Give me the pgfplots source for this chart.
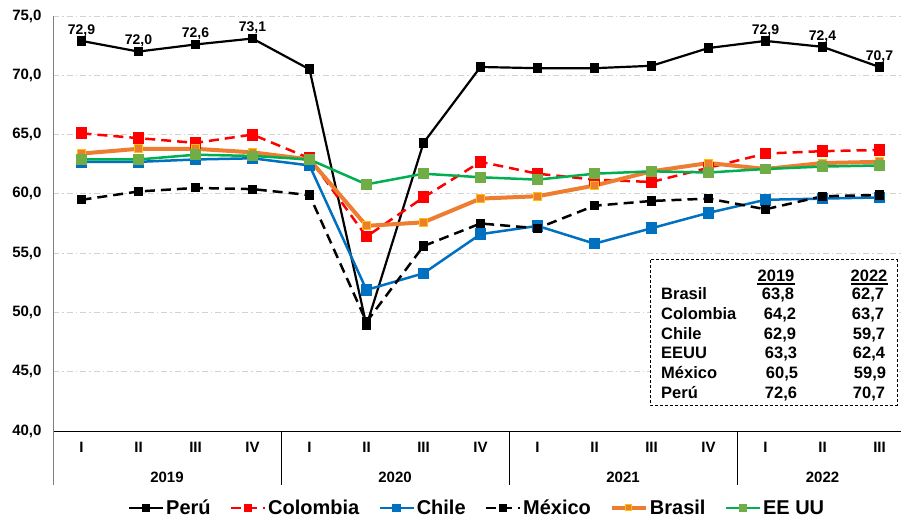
\documentclass[border=0pt]{standalone}
\usepackage{fontspec}
\setmainfont{Liberation Sans}
\usepackage{pgfplots}
\pgfplotsset{compat=1.18}

\definecolor{chile}{RGB}{0,112,192}
\definecolor{brasil}{RGB}{237,125,49}
\definecolor{brasilm}{RGB}{255,192,0}
\definecolor{eeuu}{RGB}{0,176,80}
\definecolor{eeuum}{RGB}{112,173,71}
\definecolor{gridc}{RGB}{210,210,210}

\pgfplotsset{
  legend image code/.code={\draw[mark repeat=2,mark phase=2,#1,mark size=3pt] plot coordinates {(0pt,0pt) (17pt,0pt) (34pt,0pt)};}
}

\begin{document}
\begin{tikzpicture}
\useasboundingbox (0,0) rectangle (901pt,517pt);
\begin{axis}[
    at={(53pt,86pt)}, anchor=south west,
    scale only axis,
    width=855pt, height=415pt,
    xmin=-0.5, xmax=14.5,
    ymin=40, ymax=75,
    ytick={40,45,...,75},
    xtick={0,...,14},
    xticklabels={I,II,III,IV,I,II,III,IV,I,II,III,IV,I,II,III},
    axis lines*=left,
    x axis line style={black, line width=1pt},
    y axis line style={gray, line width=1pt},
    major tick length=0pt,
    ymajorgrids,
    grid style={gridc, line width=0.8pt, dash pattern=on 6pt off 3pt on 1.5pt off 3pt},
    /pgf/number format/use comma,
    /pgf/number format/fixed,
    /pgf/number format/fixed zerofill,
    /pgf/number format/precision=1,
    /pgf/number format/assume math mode=true,
    ticklabel style={font=\bfseries\fontsize{15}{18}\selectfont},
    yticklabel style={xshift=-8pt},
    xticklabel style={yshift=-8pt},
    clip=false,
    legend columns=-1,
    legend style={at={(0.496,-0.1855)}, anchor=center, draw=none, fill=none,
      font=\bfseries\fontsize{20}{22}\selectfont,
      /tikz/every even column/.append style={column sep=17pt},
      /tikz/every odd column/.append style={column sep=0pt},
      inner sep=0pt},
    legend cell align=left,
]
% Peru
\addplot[black, line width=2.2pt, mark=square*, mark size=3.8pt, mark options={solid}] coordinates {
  (0,72.9) (1,72.0) (2,72.6) (3,73.1) (4,70.5) (5,48.9) (6,64.3) (7,70.7)
  (8,70.6) (9,70.6) (10,70.8) (11,72.3) (12,72.9) (13,72.4) (14,70.7)};
\addlegendentry{Perú}
% Colombia
\addplot[red, line width=2.5pt, dash pattern=on 10pt off 6pt, mark=square*, mark size=4.7pt, mark options={solid}] coordinates {
  (0,65.1) (1,64.7) (2,64.3) (3,65.0) (4,63.0) (5,56.4) (6,59.7) (7,62.7)
  (8,61.7) (9,61.2) (10,61.0) (11,62.2) (12,63.4) (13,63.6) (14,63.7)};
\addlegendentry{Colombia}
% Chile
\addplot[chile, line width=2.5pt, mark=square*, mark size=4.5pt, mark options={solid}] coordinates {
  (0,62.7) (1,62.7) (2,62.9) (3,63.0) (4,62.4) (5,51.9) (6,53.3) (7,56.6)
  (8,57.3) (9,55.8) (10,57.1) (11,58.4) (12,59.5) (13,59.6) (14,59.7)};
\addlegendentry{Chile}
% Mexico
\addplot[black, line width=2.5pt, dash pattern=on 10pt off 6pt, mark=square*, mark size=3.3pt, mark options={solid}] coordinates {
  (0,59.5) (1,60.2) (2,60.5) (3,60.4) (4,59.9) (5,49.2) (6,55.6) (7,57.5)
  (8,57.1) (9,59.0) (10,59.4) (11,59.6) (12,58.7) (13,59.8) (14,59.9)};
\addlegendentry{México}
% Brasil
\addplot[brasil, line width=4pt, mark=square*, mark size=4pt, mark options={solid, fill=brasil, draw=brasilm, line width=1pt}] coordinates {
  (0,63.4) (1,63.8) (2,63.8) (3,63.5) (4,62.9) (5,57.3) (6,57.6) (7,59.6)
  (8,59.8) (9,60.7) (10,61.9) (11,62.6) (12,62.1) (13,62.6) (14,62.7)};
\addlegendentry{Brasil}
% EE UU
\addplot[eeuu, line width=2.5pt, mark=square*, mark size=4pt, mark options={solid, fill=eeuum, draw=eeuum}] coordinates {
  (0,62.9) (1,62.9) (2,63.3) (3,63.2) (4,62.9) (5,60.8) (6,61.7) (7,61.4)
  (8,61.2) (9,61.7) (10,61.9) (11,61.8) (12,62.1) (13,62.3) (14,62.4)};
\addlegendentry{EE UU}
% Peru data labels
\addplot[draw=none, mark=none, forget plot, nodes near coords, point meta=y,
  every node near coord/.append style={font=\bfseries\fontsize{14}{16}\selectfont, black, yshift=1pt}] coordinates {
  (0,72.9) (1,72.0) (2,72.6) (3,73.1) (12,72.9) (13,72.4) (14,70.7)};

% year separators and labels
\draw[gray, line width=1pt] (axis cs:-0.5,40) -- ([yshift=-54pt]axis cs:-0.5,40);
\draw[black, line width=1pt] (axis cs:3.5,40) -- ([yshift=-54pt]axis cs:3.5,40);
\draw[black, line width=1pt] (axis cs:7.5,40) -- ([yshift=-54pt]axis cs:7.5,40);
\draw[black, line width=1pt] (axis cs:11.5,40) -- ([yshift=-54pt]axis cs:11.5,40);
\begin{scope}[every node/.style={font=\bfseries\fontsize{15}{18}\selectfont}]
\node at (axis cs:1.5,40) [yshift=-46pt] {2019};
\node at (axis cs:5.5,40) [yshift=-46pt] {2020};
\node at (axis cs:9.5,40) [yshift=-46pt] {2021};
\node at (axis cs:13,40) [yshift=-46pt] {2022};
\end{scope}
\end{axis}

% summary table
\draw[black, fill=white, line width=1pt, dash pattern=on 3pt off 2pt] (650pt,257pt) rectangle (897pt,112pt);
\begin{scope}[every node/.style={font=\bfseries\fontsize{16.5}{18}\selectfont, inner sep=0pt}]
\node[anchor=base] at (776pt,236pt) {2019};
\node[anchor=base] at (869pt,236pt) {2022};
\draw[line width=1.3pt] (757pt,233pt) -- (795pt,233pt);
\draw[line width=1.3pt] (851pt,233pt) -- (888pt,233pt);
\node[anchor=base west] at (661pt,218pt) {Brasil};
\node[anchor=base west] at (661pt,198pt) {Colombia};
\node[anchor=base west] at (661pt,178pt) {Chile};
\node[anchor=base west] at (661pt,159pt) {EEUU};
\node[anchor=base west] at (661pt,139pt) {México};
\node[anchor=base west] at (661pt,119pt) {Perú};
\node[anchor=base] at (778pt,218pt) {63,8};
\node[anchor=base] at (780pt,198pt) {64,2};
\node[anchor=base] at (780pt,178pt) {62,9};
\node[anchor=base] at (781pt,159pt) {63,3};
\node[anchor=base] at (782pt,139pt) {60,5};
\node[anchor=base] at (781pt,119pt) {72,6};
\node[anchor=base] at (868pt,218pt) {62,7};
\node[anchor=base] at (868pt,198pt) {63,7};
\node[anchor=base] at (869pt,178pt) {59,7};
\node[anchor=base] at (869pt,159pt) {62,4};
\node[anchor=base] at (870pt,139pt) {59,9};
\node[anchor=base] at (869pt,119pt) {70,7};
\end{scope}
\end{tikzpicture}
\end{document}
